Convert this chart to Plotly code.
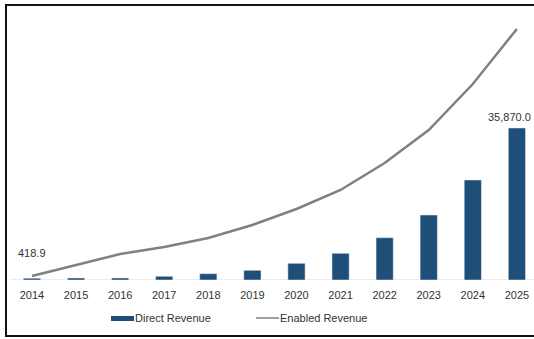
import plotly.graph_objects as go

years = ["2014", "2015", "2016", "2017", "2018", "2019", "2020", "2021", "2022", "2023", "2024", "2025"]
direct_revenue = [418.9, 470, 480, 870, 1490, 2290, 3940, 6300, 9980, 15340, 23600, 35870.0]
enabled_revenue = [944, 3540, 6136, 7788, 9912, 12980, 16756, 21240, 27612, 35400, 46256, 59236]
series_names = ["Direct Revenue", "Enabled Revenue"]
bar_color = "#1f4e79"
line_color = "#808080"
text_color = "#333333"
font_family = "Liberation Sans, Arial, sans-serif"

fig = go.Figure()
fig.add_trace(go.Bar(x=years, y=direct_revenue, name=series_names[0], marker_color=bar_color,
                     width=0.39, showlegend=False))
fig.add_trace(go.Scatter(x=years, y=enabled_revenue, name=series_names[1], mode="lines",
                         line=dict(color=line_color, width=2.5), showlegend=False))

# data labels
fig.add_annotation(x=0, y=direct_revenue[0], text=f"{direct_revenue[0]:,.1f}", showarrow=False,
                   yanchor="bottom", yshift=17, font=dict(size=11, color=text_color, family=font_family))
fig.add_annotation(x=len(years) - 1, y=direct_revenue[-1], text=f"{direct_revenue[-1]:,.1f}", showarrow=False,
                   xanchor="right", xshift=16, yanchor="bottom", yshift=3,
                   font=dict(size=11, color=text_color, family=font_family))

# axis line
fig.add_shape(type="line", xref="x", yref="y", x0=-0.5, x1=11.7, y0=0, y1=0,
              line=dict(color="#d9d9d9", width=1), layer="below")

# frame
W, L, T, B = 534, 5, 20, 59
PH = 339 - T - B
PW = W - L
def px(x):
    return (x - L) / PW
def py(y):
    return (339 - B - y) / PH

fig.add_shape(type="rect", xref="paper", yref="paper", x0=px(6), x1=px(545), y0=py(336), y1=py(5),
              line=dict(color="#111111", width=2))

# legend (manual)
fig.add_shape(type="rect", xref="paper", yref="paper", x0=px(111), x1=px(134), y0=py(321), y1=py(316),
              line=dict(width=0), fillcolor=bar_color)
fig.add_annotation(xref="paper", yref="paper", x=px(133), y=py(318), text=series_names[0], showarrow=False,
                   xanchor="left", yanchor="middle", font=dict(size=11, color=text_color, family=font_family))
fig.add_shape(type="line", xref="paper", yref="paper", x0=px(256), x1=px(279), y0=py(318), y1=py(318),
              line=dict(color=line_color, width=1.5))
fig.add_annotation(xref="paper", yref="paper", x=px(278), y=py(318), text=series_names[1], showarrow=False,
                   xanchor="left", yanchor="middle", font=dict(size=11, color=text_color, family=font_family))

fig.update_layout(
    width=534, height=339,
    margin=dict(l=L, r=0, t=T, b=B),
    paper_bgcolor="white", plot_bgcolor="white",
    font=dict(family=font_family, size=11, color=text_color),
    xaxis=dict(type="category", range=[-0.612, 11.388], showgrid=False, zeroline=False, showline=False,
               ticks="", ticklabelstandoff=7, tickfont=dict(size=11, color=text_color)),
    yaxis=dict(range=[0, 61360], showgrid=False, zeroline=False, showline=False, showticklabels=False),
    bargap=0.6,
)

fig.write_html("out.html")
